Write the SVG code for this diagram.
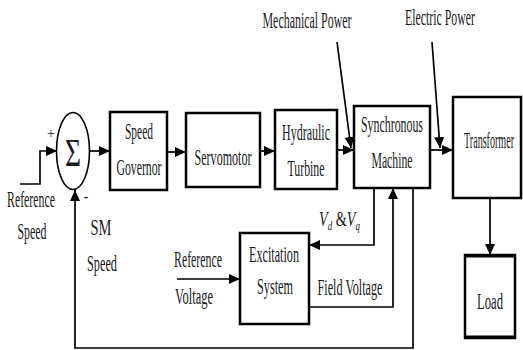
<svg xmlns="http://www.w3.org/2000/svg" width="523" height="350" viewBox="0 0 523 350">
<defs>
<style>
.box{fill:#fff;stroke:#000;stroke-width:2.5}
.ln{fill:none;stroke:#000;stroke-width:1.7}
.t{font-family:"Liberation Serif","Times New Roman",serif;font-size:23px;fill:#1a1a1a;text-anchor:middle}
</style>
<marker id="ah" markerUnits="userSpaceOnUse" markerWidth="12" markerHeight="12" viewBox="0 0 12 12" refX="11" refY="6" orient="auto">
<path d="M0,1 L11,6 L0,11 Z" fill="#000"/>
</marker>
</defs>
<rect width="523" height="350" fill="#fff"/>

<g id="connectors">
<polyline class="ln" points="20,184 40,184 40,151 57,151" stroke-width="2.5" marker-end="url(#ah)"/>
<line class="ln" x1="90" y1="151" x2="110" y2="151" marker-end="url(#ah)"/>
<line class="ln" x1="167" y1="152" x2="186" y2="152" marker-end="url(#ah)"/>
<line class="ln" x1="260" y1="151" x2="275" y2="151" marker-end="url(#ah)"/>
<line class="ln" x1="337" y1="150" x2="354" y2="150" marker-end="url(#ah)"/>
<line class="ln" x1="430" y1="150" x2="453" y2="150" marker-end="url(#ah)"/>
<line class="ln" x1="337" y1="42" x2="351" y2="148" marker-end="url(#ah)"/>
<line class="ln" x1="432" y1="42" x2="440" y2="148" marker-end="url(#ah)"/>
<line class="ln" x1="490" y1="198" x2="490" y2="255" marker-end="url(#ah)"/>
<polyline class="ln" points="374,188 374,245 309,245" marker-end="url(#ah)"/>
<polyline class="ln" points="309,307 393,307 393,188" marker-end="url(#ah)"/>
<line class="ln" x1="177" y1="279" x2="240" y2="279" stroke-width="2.2" marker-end="url(#ah)"/>
<polyline class="ln" points="413,188 413,348 75,348 75,190" marker-end="url(#ah)"/>
</g>

<g id="sum">
<ellipse cx="73" cy="151" rx="16.5" ry="38.5" fill="#fff" stroke="#000" stroke-width="1.6"/>
<text class="t" x="73" y="166" style="font-size:40px" textLength="16" lengthAdjust="spacingAndGlyphs">Σ</text>
<text class="t" x="51" y="138" style="font-size:14px">+</text>
<text class="t" x="86" y="201" style="font-size:14px;font-weight:bold">-</text>
</g>

<g id="reference-speed">
<text class="t" x="31" y="207" textLength="48" lengthAdjust="spacingAndGlyphs">Reference</text>
<text class="t" x="32" y="239" textLength="29" lengthAdjust="spacingAndGlyphs">Speed</text>
</g>

<g id="sm-speed">
<text class="t" x="101" y="235" textLength="21" lengthAdjust="spacingAndGlyphs">SM</text>
<text class="t" x="102" y="271" textLength="30" lengthAdjust="spacingAndGlyphs">Speed</text>
</g>

<g id="speed-governor">
<rect class="box" x="110" y="112" width="57" height="78"/>
<text class="t" x="139" y="139" textLength="28" lengthAdjust="spacingAndGlyphs">Speed</text>
<text class="t" x="139" y="175" textLength="45" lengthAdjust="spacingAndGlyphs">Governor</text>
</g>

<g id="servomotor">
<rect class="box" x="186" y="113" width="74" height="74"/>
<text class="t" x="223" y="165" textLength="57" lengthAdjust="spacingAndGlyphs">Servomotor</text>
</g>

<g id="hydraulic-turbine">
<rect class="box" x="275" y="110" width="62" height="79"/>
<text class="t" x="306" y="140" textLength="48" lengthAdjust="spacingAndGlyphs">Hydraulic</text>
<text class="t" x="306" y="176" textLength="37" lengthAdjust="spacingAndGlyphs">Turbine</text>
</g>

<g id="synchronous-machine">
<rect class="box" x="354" y="106" width="76" height="82"/>
<text class="t" x="392" y="132" textLength="62" lengthAdjust="spacingAndGlyphs">Synchronous</text>
<text class="t" x="392" y="168" textLength="41" lengthAdjust="spacingAndGlyphs">Machine</text>
</g>

<g id="transformer">
<rect class="box" x="453" y="97" width="68" height="101"/>
<text class="t" x="489" y="148" textLength="50" lengthAdjust="spacingAndGlyphs">Transformer</text>
</g>

<g id="load">
<rect class="box" x="465" y="255" width="50" height="83"/>
<line x1="465" y1="256" x2="515" y2="256" stroke="#000" stroke-width="3"/>
<line x1="465" y1="337" x2="515" y2="337" stroke="#000" stroke-width="3"/>
<text class="t" x="490" y="309" textLength="26" lengthAdjust="spacingAndGlyphs">Load</text>
</g>

<g id="excitation-system">
<rect class="box" x="240" y="233" width="69" height="91"/>
<text class="t" x="274" y="262" textLength="50" lengthAdjust="spacingAndGlyphs">Excitation</text>
<text class="t" x="275" y="294" textLength="36" lengthAdjust="spacingAndGlyphs">System</text>
</g>

<g id="labels">
<text class="t" x="307" y="28" textLength="89" lengthAdjust="spacingAndGlyphs">Mechanical Power</text>
<text class="t" x="440" y="25" textLength="70" lengthAdjust="spacingAndGlyphs">Electric Power</text>
<text class="t" x="198" y="267" textLength="48" lengthAdjust="spacingAndGlyphs">Reference</text>
<text class="t" x="194" y="304" textLength="38" lengthAdjust="spacingAndGlyphs">Voltage</text>
<text class="t" x="350" y="295" textLength="65" lengthAdjust="spacingAndGlyphs">Field Voltage</text>
<text class="t" transform="translate(319,226) scale(0.68,1)" x="0" y="0" style="text-anchor:start;font-size:21px"><tspan font-style="italic">V</tspan><tspan font-style="italic" font-size="13" dy="4">d</tspan><tspan dy="-4"> &amp;</tspan><tspan font-style="italic">V</tspan><tspan font-style="italic" font-size="13" dy="4">q</tspan></text>
</g>
</svg>
